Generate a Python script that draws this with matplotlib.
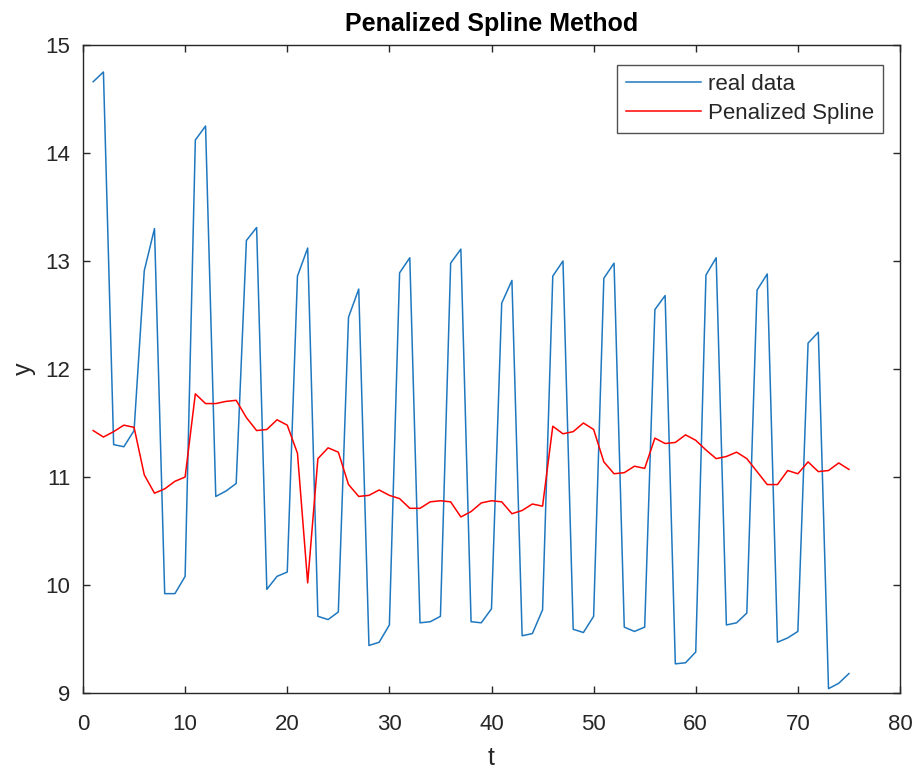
"""Penalized spline fit against the raw series (MATLAB-style figure)."""
import matplotlib
matplotlib.use("Agg")
import matplotlib.pyplot as plt
import numpy as np

t = np.arange(1, 76)

real_data = [
    14.66, 14.75, 11.30, 11.28, 11.43, 12.91, 13.30, 9.92, 9.92, 10.08,
    14.12, 14.25, 10.82, 10.87, 10.94, 13.19, 13.31, 9.96, 10.08, 10.12,
    12.86, 13.12, 9.71, 9.68, 9.75, 12.48, 12.74, 9.44, 9.47, 9.63,
    12.89, 13.03, 9.65, 9.66, 9.71, 12.98, 13.11, 9.66, 9.65, 9.78,
    12.61, 12.82, 9.53, 9.55, 9.77, 12.86, 13.00, 9.59, 9.56, 9.71,
    12.84, 12.98, 9.61, 9.57, 9.61, 12.55, 12.68, 9.27, 9.28, 9.38,
    12.87, 13.03, 9.63, 9.65, 9.74, 12.73, 12.88, 9.47, 9.51, 9.57,
    12.24, 12.34, 9.04, 9.09, 9.18,
]

spline_fit = [
    11.43, 11.37, 11.42, 11.48, 11.46, 11.02, 10.85, 10.89, 10.96, 11.00,
    11.77, 11.68, 11.68, 11.70, 11.71, 11.55, 11.43, 11.44, 11.53, 11.48,
    11.22, 10.02, 11.17, 11.27, 11.23, 10.93, 10.82, 10.83, 10.88, 10.83,
    10.80, 10.71, 10.71, 10.77, 10.78, 10.77, 10.63, 10.68, 10.76, 10.78,
    10.77, 10.66, 10.69, 10.75, 10.73, 11.47, 11.40, 11.42, 11.50, 11.44,
    11.14, 11.03, 11.04, 11.10, 11.08, 11.36, 11.31, 11.32, 11.39, 11.34,
    11.25, 11.17, 11.19, 11.23, 11.17, 11.05, 10.93, 10.93, 11.06, 11.03,
    11.14, 11.05, 11.06, 11.13, 11.07,
]

plt.rcParams["font.family"] = ["Liberation Sans", "DejaVu Sans"]
axis_color = "#262626"

fig = plt.figure(figsize=(9.17, 7.69), dpi=100)
ax = fig.add_axes([83 / 917, 1 - 693 / 769, (900 - 83) / 917, (693 - 45) / 769])

ax.plot(t, real_data, color="#1f78bf", linewidth=1.1, label="real data")
ax.plot(t, spline_fit, color="red", linewidth=1.1, label="Penalized Spline")

ax.set_xlim(0, 80)
ax.set_ylim(9, 15)
ax.set_xticks(np.arange(0, 81, 10))
ax.set_yticks(np.arange(9, 16, 1))
ax.tick_params(direction="in", top=True, right=True, length=5, width=1,
               colors=axis_color, labelsize=16)
ax.tick_params(axis="x", pad=15)
ax.tick_params(axis="y", pad=9)
for spine in ax.spines.values():
    spine.set_color(axis_color)
    spine.set_linewidth(1)

ax.set_xlabel("t", fontsize=18, color=axis_color, labelpad=8)
ax.set_ylabel("y", fontsize=18, color=axis_color, labelpad=7)
ax.set_title("Penalized Spline Method", fontsize=18, fontweight="bold", pad=10)

leg = ax.legend(loc="upper right", bbox_to_anchor=(0.979, 0.969), borderaxespad=0,
                fontsize=16, frameon=True, fancybox=False, handlelength=3.4,
                borderpad=0.4, labelspacing=0.35, handletextpad=0.3)
leg.get_frame().set_edgecolor(axis_color)
leg.get_frame().set_linewidth(1)
for text in leg.get_texts():
    text.set_color(axis_color)

fig.savefig("out.png", dpi=100)
